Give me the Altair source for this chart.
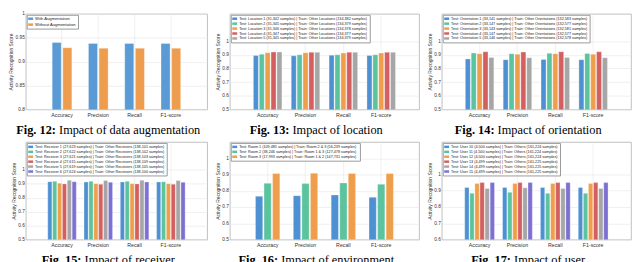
import altair as alt
import pandas as pd

metrics = ["Accuracy", "Precision", "Recall", "F1-score"]

aug_series = ["With Augmentation", "Without Augmentation"]
aug_values = [
    [0.940, 0.938, 0.938, 0.938],
    [0.929, 0.928, 0.928, 0.928],
]

loc_series = [
    "Test: Location 1 (31,342 samples) | Train: Other Locations (134,382 samples)",
    "Test: Location 2 (31,345 samples) | Train: Other Locations (134,379 samples)",
    "Test: Location 3 (31,346 samples) | Train: Other Locations (134,378 samples)",
    "Test: Location 4 (31,347 samples) | Train: Other Locations (134,377 samples)",
    "Test: Location 5 (31,345 samples) | Train: Other Locations (134,379 samples)",
]
loc_values = [
    [0.894, 0.892, 0.897, 0.894],
    [0.904, 0.900, 0.900, 0.900],
    [0.915, 0.915, 0.913, 0.913],
    [0.920, 0.918, 0.918, 0.918],
    [0.920, 0.918, 0.918, 0.918],
]

ori_series = [
    "Test: Orientation 1 (33,141 samples) | Train: Other Orientations (132,583 samples)",
    "Test: Orientation 2 (33,147 samples) | Train: Other Orientations (132,577 samples)",
    "Test: Orientation 3 (33,143 samples) | Train: Other Orientations (132,581 samples)",
    "Test: Orientation 4 (33,147 samples) | Train: Other Orientations (132,577 samples)",
    "Test: Orientation 5 (33,146 samples) | Train: Other Orientations (132,578 samples)",
]
ori_values = [
    [0.869, 0.864, 0.866, 0.864],
    [0.913, 0.908, 0.911, 0.910],
    [0.908, 0.904, 0.908, 0.904],
    [0.922, 0.920, 0.922, 0.922],
    [0.880, 0.878, 0.880, 0.878],
]

rec_series = [
    "Test: Receiver 1 (27,623 samples) | Train: Other Receivers (138,101 samples)",
    "Test: Receiver 2 (27,622 samples) | Train: Other Receivers (138,102 samples)",
    "Test: Receiver 3 (27,621 samples) | Train: Other Receivers (138,103 samples)",
    "Test: Receiver 4 (27,615 samples) | Train: Other Receivers (138,109 samples)",
    "Test: Receiver 5 (27,619 samples) | Train: Other Receivers (138,105 samples)",
    "Test: Receiver 6 (27,624 samples) | Train: Other Receivers (138,100 samples)",
]
rec_values = [
    [0.915, 0.913, 0.913, 0.913],
    [0.918, 0.918, 0.918, 0.915],
    [0.904, 0.901, 0.901, 0.901],
    [0.899, 0.897, 0.899, 0.897],
    [0.925, 0.923, 0.925, 0.923],
    [0.915, 0.911, 0.913, 0.911],
]

room_series = [
    "Test: Room 1 (109,485 samples) | Train: Room 2 & 3 (56,239 samples)",
    "Test: Room 2 (38,246 samples)  | Train: Room 1 & 3 (127,478 samples)",
    "Test: Room 3 (17,993 samples)  | Train: Room 1 & 2 (147,731 samples)",
]
room_values = [
    [0.766, 0.770, 0.774, 0.760],
    [0.846, 0.844, 0.848, 0.840],
    [0.906, 0.908, 0.906, 0.906],
]

user_series = [
    "Test: User 10 (4,500 samples) | Train: Others (161,224 samples)",
    "Test: User 11 (4,500 samples) | Train: Others (161,224 samples)",
    "Test: User 12 (4,500 samples) | Train: Others (161,224 samples)",
    "Test: User 13 (4,499 samples) | Train: Others (161,225 samples)",
    "Test: User 14 (4,499 samples) | Train: Others (161,225 samples)",
    "Test: User 15 (4,499 samples) | Train: Others (161,225 samples)",
]
user_values = [
    [0.920, 0.920, 0.920, 0.920],
    [0.884, 0.890, 0.884, 0.884],
    [0.944, 0.944, 0.944, 0.944],
    [0.950, 0.950, 0.950, 0.950],
    [0.914, 0.918, 0.914, 0.914],
    [0.950, 0.950, 0.950, 0.950],
]

palette = ["#4d91d2", "#5cc39f", "#ef9f4b", "#d45f60", "#a6a6a6", "#7d70d3"]
aug_colors = ["#5b9bd5", "#ed9d4d"]

captions = [
    ("Fig. 12:", "Impact of data augmentation"),
    ("Fig. 13:", "Impact of location"),
    ("Fig. 14:", "Impact of orientation"),
    ("Fig. 15:", "Impact of receiver"),
    ("Fig. 16:", "Impact of environment"),
    ("Fig. 17:", "Impact of user"),
]

# Times-compatible advance widths (per 1000 em) for caption layout
REG = {" ": 250, "I": 333, "m": 778, "p": 500, "a": 444, "c": 444, "t": 278,
       "o": 500, "f": 333, "d": 500, "u": 500, "g": 500, "e": 444, "n": 500,
       "l": 278, "r": 333, "i": 278, "v": 500, "s": 389}
BOLD = {"F": 611, "i": 278, "g": 500, ".": 250, " ": 250, ":": 333}
CAP_SIZE = 12.5
CAP_GAP = 25


def text_w(s, table):
    return sum(table.get(ch, 500) for ch in s) / 1000.0 * CAP_SIZE


def panel(series, values, colors, ydom, yticks, yfmt, w, h, cap,
          leg_font, leg_rowpad, axis_w=16.5):
    rows = []
    for s, vals in zip(series, values):
        for m, v in zip(metrics, vals):
            rows.append({"metric": m, "series": s, "score": v})
    df = pd.DataFrame(rows)
    n = len(series)
    gw = min(0.8, n / (n + 1.5))
    pin = 1 - gw
    pout = (1 + pin) / 2
    bars = alt.Chart(df).mark_bar(
        stroke="white", strokeWidth=0.5, strokeOpacity=0.6, clip=True
    ).encode(
        x=alt.X("metric:N", sort=metrics, title=None,
                scale=alt.Scale(paddingInner=pin, paddingOuter=pout),
                axis=alt.Axis(labelAngle=0, grid=True, bandPosition=0.5,
                              ticks=False, domain=False, labelFontSize=5.3,
                              labelPadding=3, labelColor="#333",
                              gridColor="#e6e6e6", gridWidth=0.6)),
        xOffset=alt.XOffset("series:N", sort=series,
                            scale=alt.Scale(paddingInner=0.15, paddingOuter=0.05)),
        y=alt.Y("score:Q", title="Activity Recognition Score",
                scale=alt.Scale(domain=ydom, nice=False, zero=False),
                axis=alt.Axis(values=yticks, format=yfmt, grid=True, ticks=False,
                              domain=False, labelFontSize=4.8, titleFontSize=5,
                              titleFontWeight="normal", titlePadding=1.5,
                              labelPadding=1.5, labelColor="#333",
                              titleColor="#333", gridColor="#e6e6e6",
                              gridWidth=0.6)),
        color=alt.Color("series:N", sort=series,
                        scale=alt.Scale(domain=series, range=colors),
                        legend=alt.Legend(title=None, orient="top-left", offset=1,
                                          fillColor="white", strokeColor="#999",
                                          padding=1.5, labelFontSize=leg_font,
                                          labelColor="#222", labelLimit=400,
                                          symbolType="M-1,-0.5H1V0.5H-1Z",
                                          symbolSize=25, symbolStrokeWidth=0,
                                          rowPadding=leg_rowpad, labelOffset=2)),
    )
    bold, rest = cap
    bw = text_w(bold, BOLD) + text_w(" ", REG)
    total = bw + text_w(rest, REG)
    x0 = (w - axis_w) / 2 - total / 2
    cap_b = alt.Chart(pd.DataFrame({"t": [bold]})).mark_text(
        font="Liberation Serif", fontSize=CAP_SIZE, fontWeight="bold",
        align="left", baseline="alphabetic", color="black"
    ).encode(text="t:N", x=alt.value(x0), y=alt.value(h + CAP_GAP))
    cap_r = alt.Chart(pd.DataFrame({"t": [rest]})).mark_text(
        font="Liberation Serif", fontSize=CAP_SIZE, fontWeight="normal",
        align="left", baseline="alphabetic", color="black"
    ).encode(text="t:N", x=alt.value(x0 + bw), y=alt.value(h + CAP_GAP))
    return alt.layer(bars, cap_b, cap_r).resolve_scale(
        color="independent").properties(width=w, height=h)


t5 = [0.5, 0.6, 0.7, 0.8, 0.9, 1.0]
H1, H2 = 97, 99
p1 = panel(aug_series, aug_values, aug_colors, [0.8, 1.0],
           [0.8, 0.85, 0.9, 0.95, 1.0], ".2~f", 184, H1, captions[0], 4.2, 1)
p2 = panel(loc_series, loc_values, palette, [0.5, 1.2], t5, ".1~f", 192, H1,
           captions[1], 3.8, 0)
p3 = panel(ori_series, ori_values, palette, [0.5, 1.2], t5, ".1~f", 192, H1,
           captions[2], 3.8, 0)
p4 = panel(rec_series, rec_values, palette, [0.5, 1.2], t5, ".1~f", 184, H2,
           captions[3], 3.8, 0)
p5 = panel(room_series, room_values, palette, [0.5, 1.1], t5, ".1~f", 192, H2,
           captions[4], 3.8, 0)
p6 = panel(user_series, user_values, palette, [0.6, 1.2],
           [0.6, 0.7, 0.8, 0.9, 1.0], ".1~f", 192, H2, captions[5], 3.8, 0)

res = dict(color="independent", x="independent", y="independent",
           xOffset="independent")

chart = alt.concat(
    p1, p2, p3, p4, p5, p6, columns=3, bounds="flush",
    spacing={"row": 33, "column": 23}
).resolve_scale(**res).resolve_legend(color="independent").resolve_axis(
    x="independent", y="independent"
).properties(
    padding=0, background="white"
).configure_view(stroke="#b0b0b0", strokeWidth=0.8).configure_axis(
    labelFont="Liberation Sans", titleFont="Liberation Sans"
).configure_legend(labelFont="Liberation Sans")

chart.save("out.html", embed_options={"renderer": "svg", "actions": False})
